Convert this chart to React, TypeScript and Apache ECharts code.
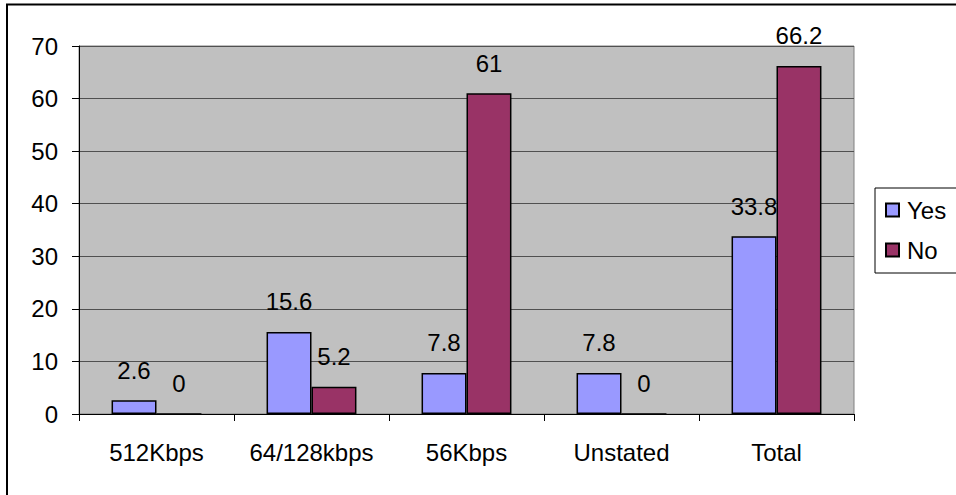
import React, { useEffect, useRef } from "react";
import * as echarts from "echarts";

const categories = ["512Kbps", "64/128kbps", "56Kbps", "Unstated", "Total"];
const yesValues = [2.6, 15.6, 7.8, 7.8, 33.8];
const noValues = [0, 5.2, 61, 0, 66.2];
const seriesNames = ["Yes", "No"];

const FONT = 'Arial, "Liberation Sans", sans-serif';
const FS = 24;

export default function App() {
  const ref = useRef<HTMLDivElement>(null);
  useEffect(() => {
    if (!ref.current) return;
    const chart = echarts.init(ref.current, undefined, { renderer: "svg" });
    const label = {
      show: true,
      position: "top" as const,
      distance: 18,
      fontSize: FS,
      fontFamily: FONT,
      color: "#000",
    };
    chart.setOption({
      animation: false,
      backgroundColor: "#fff",
      textStyle: { fontFamily: FONT },
      graphic: [
        {
          type: "rect",
          shape: { x: 7, y: 4.5, width: 970, height: 510 },
          style: { fill: "none", stroke: "#000", lineWidth: 2 },
          z: 100,
        },
      ],
      grid: {
        left: 79,
        top: 46,
        right: 102,
        bottom: 81,
        show: true,
        backgroundColor: "#C0C0C0",
        borderColor: "#808080",
        borderWidth: 1,
      },
      legend: {
        orient: "vertical",
        left: 875,
        top: 188,
        data: seriesNames,
        borderColor: "#000",
        borderWidth: 1,
        backgroundColor: "#fff",
        padding: [10, 40, 11, 10],
        itemWidth: 13,
        itemHeight: 13,
        itemGap: 16,
        icon: "rect",
        textStyle: { fontSize: FS, fontFamily: FONT, color: "#000", padding: [0, 0, 0, 3] },
      },
      xAxis: {
        type: "category",
        data: categories,
        axisLine: { show: true, lineStyle: { color: "#000", width: 1 } },
        axisTick: { show: true, alignWithLabel: false, length: 7, lineStyle: { color: "#000" } },
        axisLabel: {
          fontSize: FS,
          fontFamily: FONT,
          color: "#000",
          margin: 26,
          interval: 0,
          hideOverlap: false,
        },
        splitLine: { show: false },
      },
      yAxis: {
        type: "value",
        min: 0,
        max: 70,
        interval: 10,
        axisLine: { show: true, lineStyle: { color: "#000", width: 1 } },
        axisTick: { show: true, length: 7, lineStyle: { color: "#000" } },
        axisLabel: { fontSize: FS, fontFamily: FONT, color: "#000", margin: 21 },
        splitLine: { show: true, lineStyle: { color: "#505050", width: 1 } },
      },
      series: [
        {
          name: seriesNames[0],
          type: "bar",
          data: yesValues,
          barGap: "0%",
          barCategoryGap: "42%",
          itemStyle: { color: "#9999FF", borderColor: "#000", borderWidth: 1.5 },
          label,
        },
        {
          name: seriesNames[1],
          type: "bar",
          data: noValues,
          barGap: "0%",
          barCategoryGap: "42%",
          itemStyle: { color: "#993366", borderColor: "#000", borderWidth: 1.5 },
          label,
        },
      ],
    });
    return () => chart.dispose();
  }, []);
  return (
    <div
      ref={ref}
      style={{ position: "fixed", left: 0, top: 0, width: 956, height: 495, background: "#fff" }}
    />
  );
}
